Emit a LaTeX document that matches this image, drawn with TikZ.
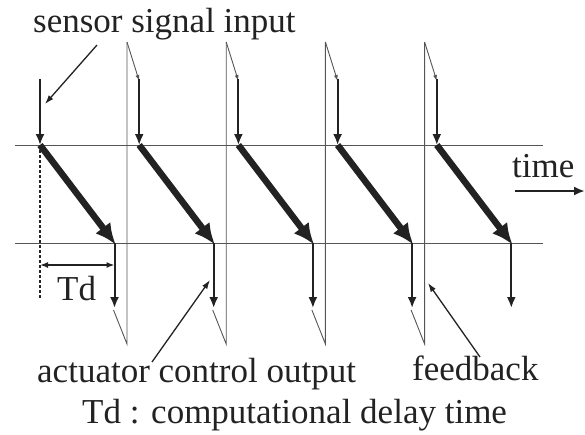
\documentclass[tikz,border=0pt]{standalone}
\usepackage{fontspec}
\setmainfont{Liberation Serif}
\newfontfamily\timesfont{Liberation Serif}
\usetikzlibrary{arrows.meta}
\definecolor{ink}{HTML}{222222}
\definecolor{thin}{HTML}{555555}
\tikzset{
  lbl/.style={text=ink, font=\timesfont\fontsize{35}{37}\selectfont, inner sep=0pt, anchor=base west},
  axisline/.style={draw=thin, line width=1pt},
  fbline/.style={draw=thin, line width=0.9pt},
  fbtip/.style={fbline, -{Latex[length=6pt,width=4pt]}},
  inarrow/.style={draw=ink, line width=2pt, -{Latex[length=11pt,width=9pt]}},
  diagarrow/.style={draw=ink, line width=6.5pt, -{Latex[length=21pt,width=19pt]}, shorten >=-2pt},
  pointer/.style={draw=ink, line width=1.3pt, -{Latex[length=9pt,width=6pt]}},
  tdarrow/.style={draw=ink, line width=1.5pt, {Latex[length=8pt,width=6pt]}-{Latex[length=8pt,width=6pt]}},
  dottedline/.style={draw=ink, line width=2.5pt, dash pattern=on 2.5pt off 2.5pt}
}
\begin{document}
\begin{tikzpicture}[x=1pt,y=-1pt]
\useasboundingbox (0,0) rectangle (585,434);
% axis lines
\coordinate (tl) at (15,145); \coordinate (tr) at (543,145);
\coordinate (bl) at (15,243); \coordinate (br) at (543,243);
\draw[axisline] (tl) -- (tr);
\draw[axisline] (bl) -- (br);
% points
\foreach \i in {1,...,5}{
  \pgfmathsetmacro{\xx}{40+99.2*(\i-1)}
  \coordinate (a\i) at (\xx,79);
  \coordinate (s\i) at (\xx,145);
  \coordinate (o\i) at (\xx+74.5,243);
  \coordinate (e\i) at (\xx+74.5,308);
  \coordinate (f\i) at (\xx+73.5,310);
  \coordinate (fb\i) at (\xx+87,344);
  \coordinate (ft\i) at (\xx+87,42);
}
% feedback paths
\foreach \i/\j in {1/2,2/3,3/4,4/5}{
  \draw[fbline] (f\i) -- (fb\i) -- (ft\i);
  \draw[fbtip] (ft\i) -- ([yshift=-2pt]a\j);
}
% signal arrows
\foreach \i in {1,...,5}{
  \draw[inarrow] (a\i) -- (s\i);
  \draw[diagarrow] (s\i) -- (o\i);
  \draw[inarrow] (o\i) -- (e\i);
}
% delay marking
\coordinate (dend) at (40,298);
\draw[dottedline] (s1) -- (dend);
\coordinate (tdl) at (40,265); \coordinate (tdr) at (114.5,265);
\draw[tdarrow] (tdl) -- (tdr);
\node[lbl] (td) at (57,300) {Td};
% labels
\node[lbl] (sensor) at (33,32) {sensor signal input};
\coordinate (sp1) at (97,45); \coordinate (sp2) at (45,104);
\draw[pointer] (sp1) -- (sp2);
\node[lbl] (time) at (512,177) {time};
\coordinate (tm1) at (515,191); \coordinate (tm2) at (585,191);
\draw[draw=ink, line width=2.5pt, -{Latex[length=11pt,width=9pt]}] (tm1) -- (tm2);
\node[lbl] (act) at (37,382) {actuator control output};
\coordinate (ap1) at (152,362); \coordinate (ap2) at (210,280);
\draw[pointer] (ap1) -- (ap2);
\node[lbl] (fbk) at (412,380) {feedback};
\coordinate (fp1) at (480,357); \coordinate (fp2) at (428,283);
\draw[pointer] (fp1) -- (fp2);
\node[lbl] (cap) at (82,423) {Td : computational delay time};
\end{tikzpicture}
\end{document}
